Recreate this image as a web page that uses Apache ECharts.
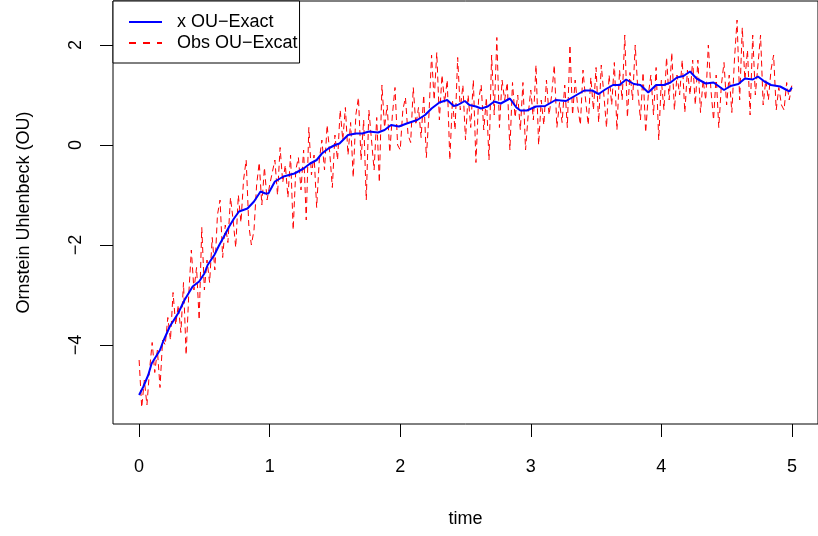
<!DOCTYPE html>
<html>
<head>
<meta charset="utf-8">
<script src="https://cdn.jsdelivr.net/npm/echarts@6/dist/echarts.min.js"></script>
<style>
html,body{margin:0;padding:0;background:#fff;}
#chart{width:818px;height:536px;}
</style>
</head>
<body>
<div id="chart"></div>
<script>
// Exact OU path (time, value)
var exactTime = [0,0.033,0.07,0.096,0.16,0.184,0.235,0.298,0.348,0.41,0.46,0.5,0.525,0.576,0.614,0.65,0.69,0.727,0.765,0.83,0.88,0.93,0.967,0.99,1.04,1.106,1.19,1.26,1.31,1.36,1.40,1.45,1.50,1.535,1.60,1.66,1.71,1.76,1.83,1.88,1.93,1.99,2.05,2.13,2.19,2.24,2.30,2.36,2.41,2.44,2.495,2.53,2.58,2.62,2.67,2.72,2.77,2.84,2.89,2.92,2.97,3.04,3.11,3.19,3.27,3.33,3.41,3.47,3.52,3.57,3.63,3.68,3.73,3.79,3.84,3.90,3.96,4.02,4.07,4.12,4.17,4.22,4.27,4.34,4.40,4.48,4.53,4.59,4.64,4.70,4.74,4.79,4.84,4.91,4.96,4.98,5.0];
var exactValue = [-5.0,-4.83,-4.6,-4.37,-4.1,-3.93,-3.63,-3.37,-3.1,-2.83,-2.73,-2.57,-2.4,-2.2,-2.0,-1.83,-1.63,-1.47,-1.33,-1.27,-1.13,-0.93,-0.97,-0.97,-0.73,-0.63,-0.57,-0.47,-0.37,-0.3,-0.17,-0.07,0.0,0.03,0.2,0.23,0.23,0.27,0.25,0.3,0.4,0.37,0.43,0.5,0.6,0.73,0.85,0.9,0.78,0.8,0.88,0.8,0.77,0.73,0.77,0.87,0.83,0.93,0.75,0.69,0.69,0.77,0.78,0.9,0.88,0.97,1.09,1.09,1.02,1.11,1.2,1.2,1.31,1.22,1.2,1.05,1.2,1.2,1.25,1.35,1.38,1.47,1.33,1.23,1.25,1.1,1.18,1.22,1.33,1.31,1.37,1.27,1.2,1.17,1.1,1.07,1.15];

// Observations, one every 0.02 time units from 0 to 5
var obsStep = 0.02;
var obsValue = [
-4.3,-5.25,-4.7,-5.2,-4.5,-3.95,-4.55,-4.1,-4.85,-3.9,
-4.0,-3.45,-3.9,-2.95,-3.6,-3.2,-3.75,-2.75,-4.2,-3.0,
-2.1,-2.9,-2.45,-3.5,-1.65,-2.9,-2.3,-2.75,-1.85,-2.5,
-1.4,-1.1,-2.25,-1.6,-1.95,-1.05,-1.5,-2.05,-1.0,-1.55,
-0.7,-0.3,-1.6,-2.0,-1.7,-0.8,-0.35,-1.2,-0.45,-1.1,
-0.8,-0.55,-0.3,-1.0,-0.05,-0.75,-0.4,-1.05,-0.2,-1.7,
-0.5,-0.25,-0.9,-0.1,-1.5,0.35,-0.6,-0.2,-1.25,-0.3,
0.1,-0.5,0.4,-0.15,-0.85,0.2,-0.3,0.7,0.1,0.75,
-0.2,0.45,-0.65,0.6,0.95,-0.3,0.5,-1.1,0.7,0.1,
-0.5,0.55,-0.75,1.2,0.35,0.8,-0.15,0.6,1.15,0.0,
-0.1,0.7,0.95,0.2,0.05,1.15,0.4,0.75,0.15,1.0,
-0.25,0.6,1.8,0.9,1.85,0.5,1.4,0.85,1.3,-0.3,
0.9,0.3,1.75,0.7,1.2,0.1,1.0,0.35,1.3,-0.35,
0.9,1.2,0.3,0.95,-0.3,1.8,0.6,2.15,0.35,1.3,
0.9,1.25,-0.1,1.25,0.55,1.0,0.3,1.25,-0.1,0.6,
1.1,0.5,1.6,0.0,0.9,0.4,1.3,0.6,1.0,1.6,
0.35,0.85,0.45,1.2,0.35,2.0,0.6,1.3,0.75,0.4,
1.5,0.9,0.4,1.35,0.7,1.55,0.45,1.6,1.0,0.35,
1.4,0.8,1.65,0.3,1.5,0.9,2.2,0.55,1.45,0.9,
2.0,1.1,0.5,1.45,0.25,1.0,1.4,0.6,1.55,0.1,
1.3,0.7,1.75,0.9,1.85,0.7,1.4,1.0,1.7,0.65,
1.5,1.0,1.7,0.8,1.7,0.65,1.3,0.9,2.0,1.1,
0.5,1.4,0.35,1.2,1.65,0.8,1.4,0.65,1.7,2.5,
0.9,2.35,1.3,1.9,0.6,2.2,1.0,1.6,2.2,0.8,
1.3,0.9,1.5,1.8,0.7,1.15,0.8,0.7,1.25,0.9,
1.2
];

var xTicks = [0,1,2,3,4,5];
var yTicks = [-4,-2,0,2];
var exactName = 'x OU\u2212Exact';
var obsName = 'Obs OU\u2212Excat';

var exactData = exactTime.map(function(t,i){ return [t, exactValue[i]]; });
var obsData = obsValue.map(function(v,i){ return [+(i*obsStep).toFixed(2), v]; });

var FONT = 'Liberation Sans';
var chart = echarts.init(document.getElementById('chart'), null, {renderer:'canvas'});
chart.setOption({
  animation: false,
  backgroundColor: '#fff',
  textStyle: {fontFamily: FONT},
  grid: {left: 113, top: 1, right: -7, bottom: 112, show: true, borderColor: '#000', borderWidth: 1, backgroundColor: 'transparent'},
  legend: {
    data: [
      {name: exactName, lineStyle: {width: 2}},
      {name: obsName, lineStyle: {width: 2, type: [7,7]}}
    ],
    orient: 'vertical',
    left: 113, top: 1,
    backgroundColor: '#fff',
    borderColor: '#000', borderWidth: 1, borderRadius: 0,
    padding: [12, 2, 11, 15],
    itemWidth: 33, itemHeight: 14, itemGap: 3,
    itemStyle: {opacity: 0},
    textStyle: {fontFamily: FONT, fontSize: 18, color: '#000', lineHeight: 18, padding: [0,0,0,10]}
  },
  xAxis: {
    type: 'value', min: -0.2, max: 5.2,
    name: 'time', nameLocation: 'middle', nameGap: 86,
    nameTextStyle: {fontFamily: FONT, fontSize: 18, color: '#000'},
    axisLine: {show: false, onZero: false},
    splitLine: {show: false},
    axisTick: {show: true, length: 13, lineStyle: {color: '#000', width: 1}, customValues: xTicks},
    axisLabel: {fontFamily: FONT, fontSize: 18, color: '#000', margin: 34, customValues: xTicks}
  },
  yAxis: {
    type: 'value', min: -5.58, max: 2.88,
    name: 'Ornstein Uhlenbeck (OU)', nameLocation: 'middle', nameGap: 80,
    nameTextStyle: {fontFamily: FONT, fontSize: 18, color: '#000'},
    axisLine: {show: false, onZero: false},
    splitLine: {show: false},
    axisTick: {show: true, length: 13, lineStyle: {color: '#000', width: 1}, customValues: yTicks},
    axisLabel: {fontFamily: FONT, fontSize: 18, color: '#000', margin: 28, rotate: 90, customValues: yTicks,
      formatter: function(v){ return String(v).replace('-', '\u2212'); }}
  },
  series: [
    {
      name: obsName, type: 'line', data: obsData, symbol: 'none', z: 2,
      lineStyle: {color: '#ff0000', width: 1, type: [6,4]},
      itemStyle: {color: '#ff0000'}
    },
    {
      name: exactName, type: 'line', data: exactData, symbol: 'none', z: 3,
      lineStyle: {color: '#0000ff', width: 2},
      itemStyle: {color: '#0000ff'}
    }
  ]
});
</script>
</body>
</html>
